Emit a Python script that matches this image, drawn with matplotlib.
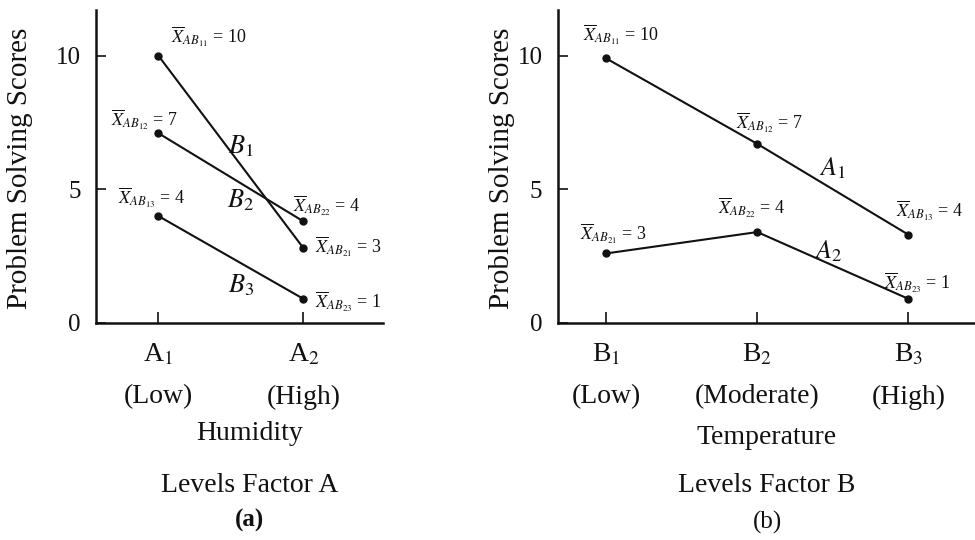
"""Interaction plots: humidity x temperature problem solving scores (panels a, b)."""
import matplotlib
matplotlib.use("Agg")
import matplotlib.pyplot as plt
import matplotlib.transforms as mtransforms

plt.rcParams["font.family"] = ["Liberation Serif", "DejaVu Serif"]
plt.rcParams["mathtext.fontset"] = "stix"

# ---- data (values as drawn in the figure) ----
a_levels = ["A$_1$", "A$_2$"]
a_desc = ["(Low)", "(High)"]
b_levels = ["B$_1$", "B$_2$", "B$_3$"]
b_desc = ["(Low)", "(Moderate)", "(High)"]

# panel (a): one line per level of B across A1, A2
b1_line = [10.0, 2.8]
b2_line = [7.1, 3.8]
b3_line = [4.0, 0.9]
# panel (b): one line per level of A across B1, B2, B3
a1_line = [9.9, 6.7, 3.3]
a2_line = [2.6, 3.4, 0.9]

a_cell_labels = [r"$\overline{X}_{AB_{11}}$ = 10", r"$\overline{X}_{AB_{12}}$ = 7",
                 r"$\overline{X}_{AB_{13}}$ = 4", r"$\overline{X}_{AB_{22}}$ = 4",
                 r"$\overline{X}_{AB_{21}}$ = 3", r"$\overline{X}_{AB_{23}}$ = 1"]
a_cell_pos = [(1.09, 10.7), (0.67, 7.6), (0.72, 4.7), (1.93, 4.4), (2.08, 2.85), (2.08, 0.8)]
b_cell_labels = [r"$\overline{X}_{AB_{11}}$ = 10", r"$\overline{X}_{AB_{12}}$ = 7",
                 r"$\overline{X}_{AB_{13}}$ = 4", r"$\overline{X}_{AB_{21}}$ = 3",
                 r"$\overline{X}_{AB_{22}}$ = 4", r"$\overline{X}_{AB_{23}}$ = 1"]
b_cell_pos = [(0.85, 10.8), (1.86, 7.5), (2.92, 4.2), (0.83, 3.35), (1.74, 4.3), (2.84, 1.5)]

INK = "#111111"

fig = plt.figure(figsize=(9.75, 5.4), dpi=100)
ax_a = fig.add_axes([0.0985, 0.402, 0.2945, 0.579])
ax_b = fig.add_axes([0.572, 0.402, 0.428, 0.579])


def style_axis(ax, xlim):
    ax.set_xlim(*xlim)
    ax.set_ylim(0, 11.7)
    ax.spines[["top", "right"]].set_visible(False)
    for s in ("left", "bottom"):
        ax.spines[s].set_linewidth(1.8)
        ax.spines[s].set_color(INK)
    ax.set_yticks([0, 5, 10])
    ax.tick_params(axis="y", direction="in", length=7, width=1.2, pad=11,
                   labelsize=18, colors=INK)
    ax.tick_params(axis="x", direction="in", length=8, width=1.2, labelbottom=False,
                   colors=INK)
    ax.patch.set_alpha(0)


def draw_line(ax, xs, ys):
    ax.plot(xs, ys, color=INK, lw=1.5, marker="o", ms=5, clip_on=False)


# ---- panel (a) ----
style_axis(ax_a, (0.57, 2.55))
ax_a.set_xticks([1, 2])
for ys in (b1_line, b2_line, b3_line):
    draw_line(ax_a, [1, 2], ys)
for txt, (x, y) in zip(a_cell_labels, a_cell_pos):
    ax_a.text(x, y, txt, fontsize=13, ha="left", va="center", color=INK)
ax_a.text(1.57, 6.6, "$B_1$", fontsize=19, ha="center", va="center", color=INK)
ax_a.text(1.57, 4.6, "$B_2$", fontsize=19, ha="center", va="center", color=INK)
ax_a.text(1.57, 1.4, "$B_3$", fontsize=19, ha="center", va="center", color=INK)

# ---- panel (b) ----
style_axis(ax_b, (0.68, 3.44))
ax_b.set_xticks([1, 2, 3])
for ys in (a1_line, a2_line):
    draw_line(ax_b, [1, 2, 3], ys)
for txt, (x, y) in zip(b_cell_labels, b_cell_pos):
    ax_b.text(x, y, txt, fontsize=13, ha="left", va="center", color=INK)
ax_b.text(2.5, 5.8, "$A_1$", fontsize=19, ha="center", va="center", color=INK)
ax_b.text(2.47, 2.7, "$A_2$", fontsize=19, ha="center", va="center", color=INK)

# ---- category labels under the axes ----
for ax, levels, desc in ((ax_a, a_levels, a_desc), (ax_b, b_levels, b_desc)):
    tr = mtransforms.blended_transform_factory(ax.transData, fig.transFigure)
    for i, (lv, ds) in enumerate(zip(levels, desc)):
        ax.text(i + 1, 1 - 355 / 540, lv, transform=tr, fontsize=20,
                ha="center", va="center", color=INK)
        ax.text(i + 1, 1 - 397 / 540, ds, transform=tr, fontsize=20,
                ha="center", va="center", color=INK)

fig.text(250 / 975, 1 - 433 / 540, "Humidity", fontsize=20, ha="center", va="center", color=INK)
fig.text(250 / 975, 1 - 485 / 540, "Levels Factor A", fontsize=20, ha="center", va="center", color=INK)
fig.text(250 / 975, 1 - 520 / 540, "(a)", fontsize=18, fontweight="bold", ha="center", va="center", color=INK)
fig.text(767 / 975, 1 - 437 / 540, "Temperature", fontsize=20, ha="center", va="center", color=INK)
fig.text(767 / 975, 1 - 485 / 540, "Levels Factor B", fontsize=20, ha="center", va="center", color=INK)
fig.text(767 / 975, 1 - 522 / 540, "(b)", fontsize=18, ha="center", va="center", color=INK)

fig.text(20 / 975, 1 - 168 / 540, "Problem Solving Scores", fontsize=21, rotation=90,
         ha="center", va="center", color=INK)
fig.text(502 / 975, 1 - 168 / 540, "Problem Solving Scores", fontsize=21, rotation=90,
         ha="center", va="center", color=INK)

fig.savefig("out.png", dpi=100)
